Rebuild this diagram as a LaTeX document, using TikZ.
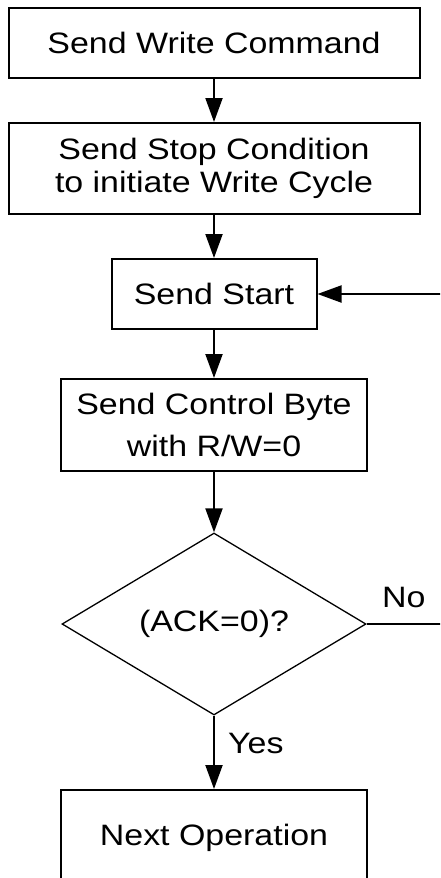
\documentclass[tikz,border=0pt]{standalone}
\usepackage{fontspec}
\setmainfont{Liberation Sans}[FakeStretch=1.15]
\usetikzlibrary{shapes.geometric,arrows.meta}
\begin{document}
\begin{tikzpicture}[x=1pt,y=1pt,
  box/.style={draw,line width=2pt,inner sep=0pt,align=center,font=\fontsize{29.5}{33}\selectfont},
  dec/.style={draw,diamond,line width=1.3pt,inner sep=0pt,minimum width=304pt,minimum height=182pt,font=\fontsize{29.5}{33}\selectfont},
  lbl/.style={inner sep=0pt,anchor=base west,font=\fontsize{29.5}{33}\selectfont},
  conn/.style={line width=2pt,-{Triangle[length=24pt,width=17pt]}},
  plain/.style={line width=1.5pt}
  ]
\useasboundingbox (0,0) rectangle (440,-878);
\fill[white] (0,0) rectangle (440,-878);
\clip (0,0) rectangle (440,-878);
\node[box,minimum width=411pt,minimum height=70pt] (b1) at (214,-43) {Send Write Command};
\node[box,minimum width=411pt,minimum height=91pt] (b2) at (214,-168.5) {Send Stop Condition\\to initiate Write Cycle};
\node[box,minimum width=205pt,minimum height=70pt] (b3) at (214,-294) {Send Start};
\node[box,minimum width=306pt,minimum height=92pt,font=\fontsize{29.5}{42}\selectfont] (b4) at (214,-425) {Send Control Byte\\with R/W=0};
\node[dec] (d) at (214,-624) {(ACK=0)?};
\node[box,minimum width=306pt,minimum height=96pt] (b5) at (214,-838) {Next Operation};
\coordinate (r1) at (442,-294);
\coordinate (r2) at (442,-624);
\draw[conn] (b1) -- (b2);
\draw[conn] (b2) -- (b3);
\draw[conn] (b3) -- (b4);
\draw[conn] (b4) -- (d);
\draw[conn] (d) -- (b5);
\draw[conn] (r1) -- (b3);
\draw[plain] (d.east) -- (r2);
\node[lbl] (no) at (382,-607) {No};
\node[lbl] (yes) at (228,-753) {Yes};
\end{tikzpicture}
\end{document}
